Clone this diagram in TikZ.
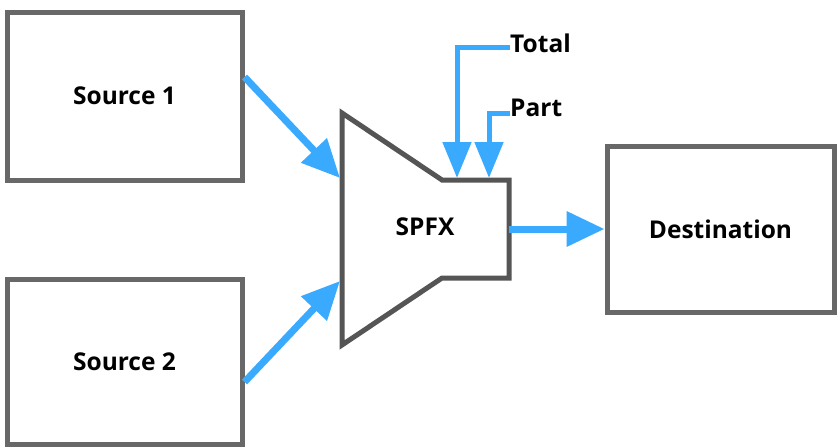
\documentclass[tikz,border=0pt]{standalone}
\usepackage{fontspec}
\setmainfont{Open Sans}
\usetikzlibrary{arrows.meta}
\definecolor{boxgray}{HTML}{686868}
\definecolor{spfxgray}{HTML}{555555}
\definecolor{flowblue}{HTML}{3AAAFF}
\tikzset{
  box/.style={draw=boxgray, line width=5pt, fill=white, inner sep=0pt},
  lbl/.style={font=\fontsize{24.5}{28}\selectfont\bfseries, text=black, inner sep=0pt},
  flow/.style={draw=flowblue, line width=7pt, -{Triangle[length=38pt,width=34pt]}},
  flowthin/.style={draw=flowblue, line width=5pt, -{Triangle[length=36pt,width=28pt]}}
}
\begin{document}
\begin{tikzpicture}[x=1pt,y=-1pt]
\useasboundingbox (0,0) rectangle (837,447);
\node[box, minimum width=235pt, minimum height=168pt] (s1) at (124.5,96) {};
\node[lbl] at (s1.center) {Source 1};
\node[box, minimum width=235pt, minimum height=165pt] (s2) at (124.5,361.5) {};
\node[lbl] at (s2.center) {Source 2};
\node[box, minimum width=227pt, minimum height=166pt] (dst) at (720.5,229) {};
\node[lbl] at (dst.center) {Destination};
% SPFX shape
\draw[draw=spfxgray, line width=5pt, line join=miter, fill=white]
  (342,113) -- (442,180) -- (509,180) -- (509,278) -- (442,278) -- (342,345) -- cycle;
\node[lbl] (spfx) at (425,227) {SPFX};
\coordinate (in1) at (340,178);
\coordinate (in2) at (340,281);
\coordinate (out) at (509,229);
\coordinate (topT) at (457,178);
\coordinate (topP) at (489,178);
\node[lbl, anchor=west] (total) at (510,43) {Total};
\node[lbl, anchor=west] (part) at (510,108) {Part};
\draw[flow] (s1.east |- 0,77) -- (in1);
\draw[flow] (s2.east |- 0,382) -- (in2);
\draw[flow] (out) -- (dst.west);
\draw[flowthin] (total.west |- 0,47) -| (topT);
\draw[flowthin] (part.west |- 0,113) -| (topP);
\end{tikzpicture}
\end{document}
